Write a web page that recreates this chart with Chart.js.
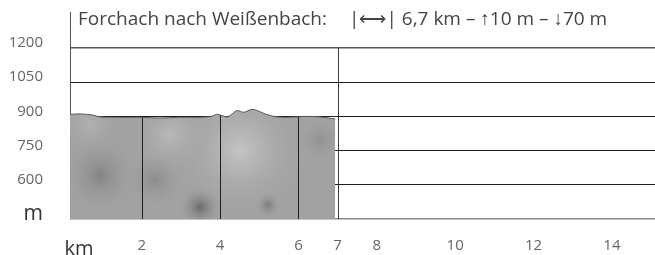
<!DOCTYPE html>
<html>
<head>
<meta charset="utf-8">
<script src="https://cdn.jsdelivr.net/npm/chart.js@4.4.1/dist/chart.umd.min.js"></script>
<style>
    html, body { margin: 0; padding: 0; background: #fff; }
    #wrap { width: 655px; height: 255px; }
</style>
</head>
<body>
<div id="wrap"><canvas id="profileChart"></canvas></div>
<script>
// profile: distance (km) and altitude (m)
const distKm = [0.17, 0.42, 0.75, 0.93, 1.44, 2.0, 2.46, 2.97, 3.48, 3.78, 3.91, 4.04, 4.19, 4.32, 4.44, 4.6, 4.82, 5.0, 5.18, 5.44, 5.77, 6.15, 6.53, 6.94];
const elevM = [909, 911, 906, 898, 896, 896, 893, 896, 896, 900, 909, 904, 898, 913, 926, 918, 931, 922, 909, 898, 896, 900, 898, 889];

const yTicks = [450, 600, 750, 900, 1050, 1200];
const xTicks = [0.4, 2, 4, 6, 7, 8, 10, 12, 14];
const profileGridKm = [2, 4, 6];
const routeEndKm = 7;

const titleText = "Forchach nach Weißenbach:";
const statsText = "|⟷| 6,7 km – ↑10 m – ↓70 m";

const FONT = "'Open Sans', sans-serif";

// mottled grey fill, like the photo texture behind the profile
function makeFill() {
    let c = document.createElement("canvas");
    c.width = 655;
    c.height = 255;
    let g = c.getContext("2d");
    g.fillStyle = "#a2a2a2";
    g.fillRect(0, 0, 655, 255);
    let blob = function (x, y, r, col) {
        let rg = g.createRadialGradient(x, y, 0, x, y, r);
        rg.addColorStop(0, col);
        rg.addColorStop(1, "rgba(162,162,162,0)");
        g.fillStyle = rg;
        g.fillRect(x - r, y - r, 2 * r, 2 * r);
    };
    blob(240, 150, 70, "rgba(200,200,200,0.9)");
    blob(170, 135, 45, "rgba(190,190,190,0.8)");
    blob(90, 125, 30, "rgba(185,185,185,0.7)");
    blob(100, 175, 40, "rgba(120,120,120,0.7)");
    blob(155, 180, 30, "rgba(125,125,125,0.6)");
    blob(200, 207, 22, "rgba(95,95,95,0.85)");
    blob(268, 205, 14, "rgba(110,110,110,0.7)");
    blob(320, 140, 25, "rgba(135,135,135,0.6)");
    return g.createPattern(c, "no-repeat");
}

function elevAt(km) {
    for (let i = 1; i < distKm.length; i++) {
        if (km <= distKm[i]) {
            let t = (km - distKm[i - 1]) / (distKm[i] - distKm[i - 1]);
            return elevM[i - 1] + t * (elevM[i] - elevM[i - 1]);
        }
    }
    return elevM[elevM.length - 1];
}

function tickVal(c) {
    return c && c.tick ? c.tick.value : null;
}

const extraLines = {
    id: "extraLines",
    afterDatasetsDraw(chart) {
        let ctx = chart.ctx;
        let xs = chart.scales.x;
        let ys = chart.scales.y;
        let bottom = chart.chartArea.bottom;
        ctx.save();
        ctx.lineWidth = 1;
        ctx.strokeStyle = "#1e1e1e";
        profileGridKm.forEach((km) => {
            let x = Math.round(xs.getPixelForValue(km)) + 0.5;
            ctx.beginPath();
            ctx.moveTo(x, ys.getPixelForValue(elevAt(km)));
            ctx.lineTo(x, bottom);
            ctx.stroke();
        });
        ctx.strokeStyle = "#3a3a3a";
        let xe = Math.round(xs.getPixelForValue(routeEndKm)) + 0.5;
        ctx.beginPath();
        ctx.moveTo(xe, ys.getPixelForValue(1200));
        ctx.lineTo(xe, bottom);
        ctx.stroke();
        ctx.restore();
    },
    afterDraw(chart) {
        let ctx = chart.ctx;
        let area = chart.chartArea;
        ctx.save();
        ctx.font = "19px " + FONT;
        ctx.fillStyle = "#444";
        ctx.textBaseline = "middle";
        let x = area.left + 8;
        ctx.fillText(titleText, x, 20);
        x += ctx.measureText(titleText).width + 22;
        ctx.fillText(statsText, x, 20);
        ctx.restore();
    }
};

let ctx = document.getElementById("profileChart").getContext("2d");
let profileChart = new Chart(ctx, {
    type: "line",
    data: {
        datasets: [
            {
                data: distKm.map((d, i) => ({ x: d, y: elevM[i] })),
                borderColor: "#555",
                borderWidth: 1,
                backgroundColor: makeFill(),
                fill: "start",
                pointRadius: 0,
                tension: 0.3
            }
        ]
    },
    options: {
        responsive: true,
        maintainAspectRatio: false,
        animation: false,
        layout: { padding: { left: 0, right: 0, top: 12, bottom: 0 } },
        plugins: {
            legend: { display: false },
            tooltip: { enabled: false }
        },
        scales: {
            x: {
                type: "linear",
                min: 0.17,
                max: 15.1,
                afterBuildTicks: (scale) => {
                    scale.ticks = xTicks.map((v) => ({ value: v }));
                },
                afterFit: (scale) => {
                    scale.height = 36;
                    scale.paddingLeft = 0;
                    scale.paddingRight = 0;
                },
                grid: { display: false },
                border: { display: false },
                ticks: {
                    autoSkip: false,
                    maxRotation: 0,
                    padding: 10,
                    callback: (v) => (v === 0.4 ? "km" : v),
                    color: (c) => (tickVal(c) === 0.4 ? "#333" : "#666"),
                    font: (c) => (tickVal(c) === 0.4 ? { family: FONT, size: 20 } : { family: FONT, size: 15 })
                }
            },
            y: {
                min: 450,
                max: 1358,
                z: 1,
                afterBuildTicks: (scale) => {
                    scale.ticks = yTicks.map((v) => ({ value: v }));
                },
                afterFit: (scale) => {
                    scale.width = 70;
                    scale.paddingTop = 0;
                    scale.paddingBottom = 0;
                },
                grid: {
                    drawTicks: false,
                    color: (c) => (tickVal(c) === 450 ? "#888" : tickVal(c) === 1200 ? "#555" : "#1e1e1e"),
                    lineWidth: (c) => (tickVal(c) === 450 || tickVal(c) === 1200 ? 1.5 : 1)
                },
                border: { display: true, color: "#555", width: 1 },
                ticks: {
                    padding: 27,
                    labelOffset: -5,
                    callback: (v) => (v === 450 ? "m" : v),
                    color: (c) => (tickVal(c) === 450 ? "#333" : "#666"),
                    font: (c) => (tickVal(c) === 450 ? { family: FONT, size: 21 } : { family: FONT, size: 15 })
                }
            }
        }
    },
    plugins: [extraLines]
});
</script>
</body>
</html>
